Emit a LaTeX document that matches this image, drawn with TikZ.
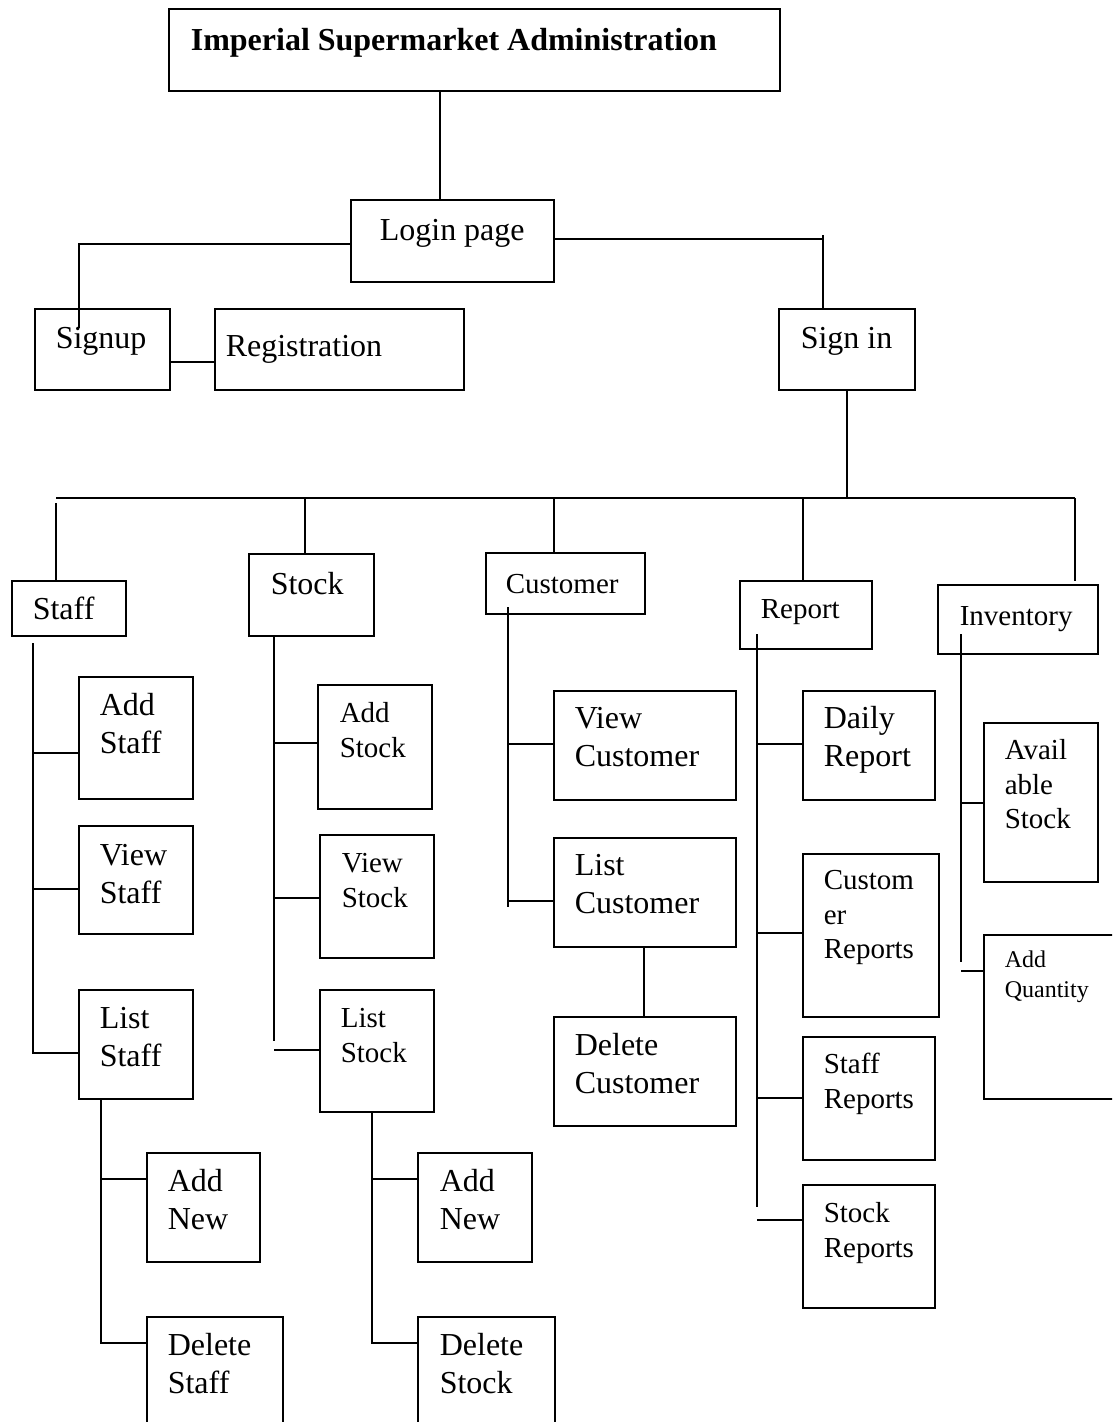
\documentclass[tikz,border=0pt]{standalone}
\usepackage{fontspec}
\setmainfont{Liberation Serif}
\newcommand{\fA}{\fontsize{32}{38}\selectfont}
\newcommand{\fB}{\fontsize{29}{34.5}\selectfont}
\newcommand{\fC}{\fontsize{24}{30}\selectfont}
\newcommand{\fT}{\bfseries\fontsize{32}{38}\selectfont}
% width, height, left pad, first baseline, font, text
\newcommand{\bxt}[6]{\parbox[c][#2pt][t]{#1pt}{#5\raggedright\leftskip=#3pt\relax\parindent=0pt\rule{0pt}{#4pt}#6\par}}
\tikzset{bx/.style={draw, line width=1.6pt, inner sep=0pt, anchor=north west, rectangle}}
\begin{document}
\begin{tikzpicture}[x=1pt, y=-1pt, line width=1.6pt]
\useasboundingbox (0,0) rectangle (1112,1422);
\fill[white] (0,0) rectangle (1112,1422);
\clip (0,0) rectangle (1112,1422);
% boxes
\node[bx] (title) at (168,8) {\bxt{611}{82}{22}{42}{\fT}{Imperial Supermarket Administration}};
\node[bx] (login) at (350,199) {\bxt{203}{82}{29}{41}{\fA}{Login page}};
\node[bx] (signup) at (34,308) {\bxt{135}{81}{21}{40}{\fA}{Signup}};
\node[bx] (registration) at (214,308) {\bxt{249}{81}{11}{48}{\fA}{Registration}};
\node[bx] (signin) at (778,308) {\bxt{136}{81}{22}{40}{\fA}{Sign in}};
\node[bx] (staff) at (11,580) {\bxt{114}{55}{21}{39}{\fA}{Staff}};
\node[bx] (stock) at (248,553) {\bxt{125}{82}{22}{41}{\fA}{Stock}};
\node[bx] (customer) at (485,552) {\bxt{159}{61}{20}{41}{\fB}{Customer}};
\node[bx] (report) at (739,580) {\bxt{132}{68}{21}{38}{\fB}{Report}};
\node[bx] (inventory) at (937,584) {\bxt{160}{69}{22}{41}{\fB}{Inventory}};
\node[bx] (addstaff) at (78,676) {\bxt{114}{122}{21}{39}{\fA}{Add\\Staff}};
\node[bx] (viewstaff) at (78,825) {\bxt{114}{108}{21}{40}{\fA}{View\\Staff}};
\node[bx] (liststaff) at (78,989) {\bxt{114}{109}{21}{39}{\fA}{List\\Staff}};
\node[bx] (addnewstaff) at (146,1152) {\bxt{113}{109}{21}{39}{\fA}{Add\\New}};
\node[bx] (delstaff) at (146,1316) {\bxt{136}{130}{21}{39}{\fA}{Delete\\Staff}};
\node[bx] (addstock) at (317,684) {\bxt{114}{124}{22}{38}{\fB}{Add\\Stock}};
\node[bx] (viewstock) at (319,834) {\bxt{114}{123}{22}{38}{\fB}{View\\Stock}};
\node[bx] (liststock) at (319,989) {\bxt{114}{122}{21}{38}{\fB}{List\\Stock}};
\node[bx] (addnewstock) at (417,1152) {\bxt{114}{109}{22}{39}{\fA}{Add\\New}};
\node[bx] (delstock) at (417,1316) {\bxt{137}{130}{22}{39}{\fA}{Delete\\Stock}};
\node[bx] (viewcust) at (553,690) {\bxt{182}{109}{21}{38}{\fA}{View\\Customer}};
\node[bx] (listcust) at (553,837) {\bxt{182}{109}{21}{38}{\fA}{List\\Customer}};
\node[bx] (delcust) at (553,1016) {\bxt{182}{109}{21}{39}{\fA}{Delete\\Customer}};
\node[bx] (daily) at (802,690) {\bxt{132}{109}{21}{38}{\fA}{Daily\\Report}};
\node[bx] (custrep) at (802,853) {\bxt{136}{163}{21}{36}{\fB}{Custom\\er\\Reports}};
\node[bx] (staffrep) at (802,1036) {\bxt{132}{123}{21}{37}{\fB}{Staff\\Reports}};
\node[bx] (stockrep) at (802,1184) {\bxt{132}{123}{21}{38}{\fB}{Stock\\Reports}};
\node[bx] (avail) at (983,722) {\bxt{114}{159}{21}{37}{\fB}{Avail\\able\\Stock}};
\node[bx] (addqty) at (983,934) {\bxt{140}{164}{21}{33}{\fC}{Add\\Quantity}};
% top connectors
\draw (title.south -| 440,0) -- (login.north -| 440,0);
\draw (login.west |- 0,244) -| (signup.north -| 79,0) -- ++(0,20);
\coordinate (tk) at (823,235);
\draw (login.east |- 0,239) -- (tk |- 0,239);
\draw (tk) -- (tk |- signin.north);
\draw (signup.east |- 0,362) -- (registration.west |- 0,362);
% bus
\coordinate (bL) at (56,498);
\coordinate (bR) at (1075,498);
\draw (signin.south -| 847,0) -- (bL -| 847,0);
\draw (bL) -- (bR);
\draw ([yshift=-5pt]bL) -- (staff.north -| bL);
\draw (bL -| 305,0) -- (stock.north -| 305,0);
\draw (bL -| 554,0) -- (customer.north -| 554,0);
\draw (bL -| 803,0) -- (report.north -| 803,0);
\draw (bR) -- ([yshift=3pt]inventory.north -| bR);
% staff column
\draw (33,643) -- (33,1053) -- (liststaff.west |- 0,1053);
\draw (33,753) -- (addstaff.west |- 0,753);
\draw (33,889) -- (viewstaff.west |- 0,889);
\draw (liststaff.south -| 101,0) -- (101,1343) -- (delstaff.west |- 0,1343);
\draw (101,1179) -- (addnewstaff.west |- 0,1179);
% stock column
\draw (stock.south -| 274,0) -- (274,1041);
\draw (274,743) -- (addstock.west |- 0,743);
\draw (274,898) -- (viewstock.west |- 0,898);
\draw (274,1050) -- (liststock.west |- 0,1050);
\draw (liststock.south -| 372,0) -- (372,1343) -- (delstock.west |- 0,1343);
\draw (372,1179) -- (addnewstock.west |- 0,1179);
% customer column
\draw (508,607) -- (508,907);
\draw (508,744) -- (viewcust.west |- 0,744);
\draw (508,901) -- (listcust.west |- 0,901);
\draw (listcust.south -| 644,0) -- (delcust.north -| 644,0);
% report column
\draw (757,634) -- (757,1207);
\draw (757,744) -- (daily.west |- 0,744);
\draw (757,933) -- (custrep.west |- 0,933);
\draw (757,1098) -- (staffrep.west |- 0,1098);
\draw (757,1220) -- (stockrep.west |- 0,1220);
% inventory column
\draw (961,634) -- (961,962);
\draw (961,803) -- (avail.west |- 0,803);
\draw (961,971) -- (addqty.west |- 0,971);
\end{tikzpicture}
\end{document}
